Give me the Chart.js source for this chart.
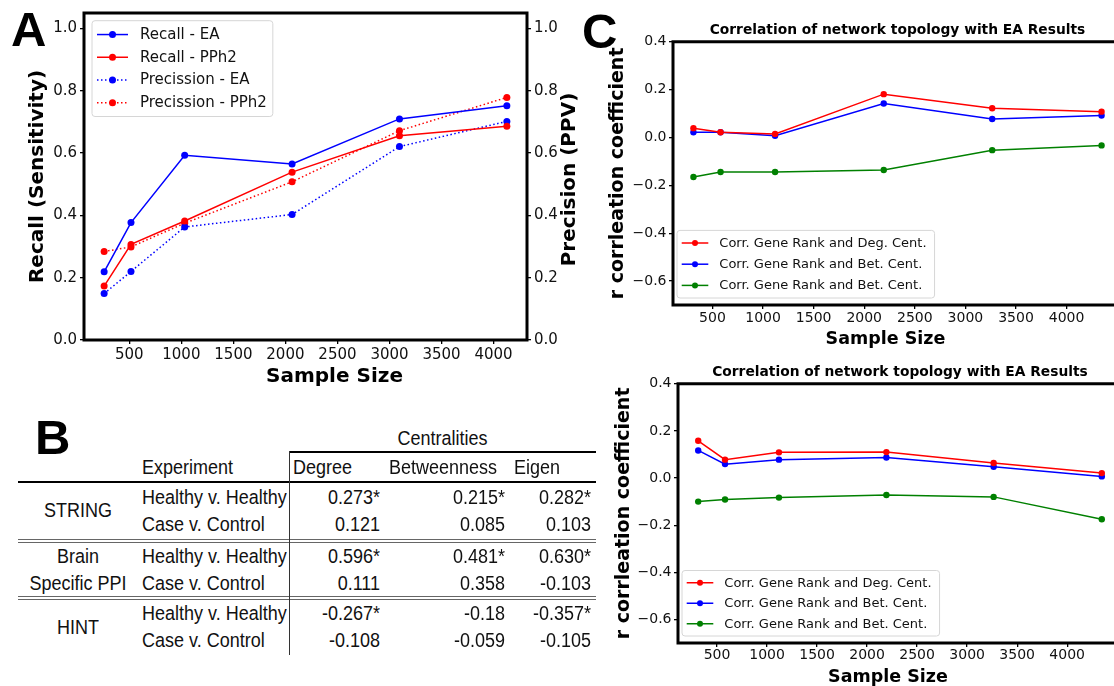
<!DOCTYPE html>
<html>
<head>
<meta charset="utf-8">
<script src="https://cdn.jsdelivr.net/npm/chart.js@4.4.0/dist/chart.umd.min.js"></script>
<style>
html, body { margin: 0; padding: 0; overflow: hidden; background: #fff; }
body { width: 1114px; height: 686px; position: relative; font-family: "Liberation Sans", Arial, sans-serif; }
canvas { position: absolute; }
.letter { position: absolute; font: bold 49px "Liberation Sans", Arial, sans-serif; line-height: 1; color: #000; z-index: 3; }
.cell { position: absolute; height: 26px; line-height: 26px; font-size: 18px; color: #111; white-space: nowrap; }
.cell span { display: inline-block; transform: scaleY(1.15); }
.rule { position: absolute; }
</style>
</head>
<body>
<canvas id="chartA" width="600" height="395" style="left:0;top:0"></canvas>
<canvas id="chartCtop" width="560" height="350" style="left:570px;top:0"></canvas>
<canvas id="chartCbot" width="560" height="345" style="left:570px;top:345px"></canvas>
<div class="letter" style="left:11px;top:5px">A</div>
<div class="letter" style="left:35px;top:413px">B</div>
<div class="letter" style="left:582px;top:7px">C</div>
<div id="tableB"></div>

<script>
// panel A: sample sizes and rates
const sampleSizeA = [258, 516, 1032, 2064, 3096, 4128];
const recallEA = [0.219, 0.377, 0.593, 0.565, 0.710, 0.752];
const recallPPh2 = [0.173, 0.307, 0.382, 0.539, 0.656, 0.686];
const precisionEA = [0.149, 0.220, 0.363, 0.403, 0.621, 0.702];
const precisionPPh2 = [0.284, 0.299, 0.375, 0.508, 0.672, 0.779];

// panel C: correlation coefficients
const sampleSizeC = [312, 580, 1119, 2193, 3265, 4346];
const topDegree = [0.039, 0.022, 0.015, 0.181, 0.122, 0.108];
const topBetween = [0.022, 0.022, 0.007, 0.142, 0.077, 0.092];
const topThird = [-0.165, -0.144, -0.144, -0.136, -0.053, -0.033];
const botDegree = [0.158, 0.078, 0.109, 0.110, 0.064, 0.021];
const botBetween = [0.117, 0.059, 0.078, 0.087, 0.048, 0.007];
const botThird = [-0.100, -0.091, -0.083, -0.072, -0.080, -0.175];
const corrLabels = ['Corr. Gene Rank and Deg. Cent.', 'Corr. Gene Rank and Bet. Cent.', 'Corr. Gene Rank and Bet. Cent.'];

// tick values
const xTicks = [500, 1000, 1500, 2000, 2500, 3000, 3500, 4000];
const ticksA = [0, 0.2, 0.4, 0.6, 0.8, 1.0];
const ticksC = [-0.6, -0.4, -0.2, 0, 0.2, 0.4];

// panel B table
const networks = [['STRING'], ['Brain', 'Specific PPI'], ['HINT']];
const experiments = ['Healthy v. Healthy', 'Case v. Control'];
const centralities = ['Degree', 'Betweenness', 'Eigen'];
const degreeVals = ['0.273*', '0.121', '0.596*', '0.111', '-0.267*', '-0.108'];
const betweenVals = ['0.215*', '0.085', '0.481*', '0.358', '-0.18', '-0.059'];
const eigenVals = ['0.282*', '0.103', '0.630*', '-0.103', '-0.357*', '-0.105'];

const BLUE = '#0000ff';
const RED = '#ff0000';
const GREEN = '#008000';

Chart.defaults.font.family = '"DejaVu Sans", sans-serif';
Chart.defaults.color = '#111';

function points(xs, ys) {
    return xs.map((x, i) => ({ x: x, y: ys[i] }));
}

function fixedTicks(values) {
    return scale => { scale.ticks = values.map(v => ({ value: v })); };
}

function fmt(v) {
    return v < 0 ? '\u2212' + Math.abs(v).toFixed(1) : v.toFixed(1);
}

function axisBase(fontSize, pad) {
    return {
        ticks: { font: { size: fontSize }, color: '#111', padding: pad, autoSkip: false, maxRotation: 0 },
        grid: { drawOnChartArea: false, drawTicks: true, tickLength: 4, color: '#000', lineWidth: 1.3 },
        border: { display: false }
    };
}

// black box around the plot area
const frame = {
    id: 'frame',
    afterDatasetsDraw(chart) {
        const { ctx, chartArea: a } = chart;
        ctx.save();
        ctx.strokeStyle = '#000';
        ctx.lineWidth = 3;
        ctx.strokeRect(a.left, a.top, a.right - a.left, a.bottom - a.top);
        ctx.restore();
    }
};

// matplotlib-like legend inside the plot
const boxLegend = {
    id: 'boxLegend',
    afterDraw(chart, args, o) {
        const { ctx, chartArea: a } = chart;
        const sets = chart.data.datasets;
        ctx.save();
        ctx.font = o.fontSize + 'px "DejaVu Sans"';
        const textW = Math.max(...sets.map(d => ctx.measureText(d.label).width));
        const w = o.padX + o.lineLen + o.gap + textW + o.padR;
        const h = o.padY * 2 + o.rowH * sets.length;
        const x0 = a.left + o.dx;
        const y0 = o.anchor === 'bottom' ? a.bottom - o.dy - h : a.top + o.dy;
        ctx.beginPath();
        if (ctx.roundRect) ctx.roundRect(x0, y0, w, h, 3); else ctx.rect(x0, y0, w, h);
        ctx.fillStyle = 'rgba(255,255,255,0.85)';
        ctx.fill();
        ctx.strokeStyle = '#d6d6d6';
        ctx.lineWidth = 1;
        ctx.stroke();
        sets.forEach((d, i) => {
            const cy = y0 + o.padY + o.rowH * (i + 0.5);
            const lx = x0 + o.padX;
            ctx.setLineDash(d.borderDash || []);
            ctx.strokeStyle = d.borderColor;
            ctx.lineWidth = 1.5;
            ctx.beginPath();
            ctx.moveTo(lx, cy);
            ctx.lineTo(lx + o.lineLen, cy);
            ctx.stroke();
            ctx.setLineDash([]);
            ctx.fillStyle = d.borderColor;
            ctx.beginPath();
            ctx.arc(lx + o.lineLen / 2, cy, o.markerR, 0, Math.PI * 2);
            ctx.fill();
            ctx.fillStyle = '#111';
            ctx.textBaseline = 'middle';
            ctx.textAlign = 'left';
            ctx.fillText(d.label, lx + o.lineLen + o.gap, cy + 0.5);
        });
        ctx.restore();
    }
};

// axis labels that sit off-centre in the original figure
const axisText = {
    id: 'axisText',
    afterDraw(chart, args, o) {
        const { ctx, chartArea: a } = chart;
        (o.items || []).forEach(it => {
            ctx.save();
            if (it.side === 'right') {
                ctx.translate(a.right + it.offset, (a.top + a.bottom) / 2 + it.shift);
                ctx.rotate(-Math.PI / 2);
            } else {
                ctx.translate((a.left + a.right) / 2 + it.shift, chart.height - it.offset);
            }
            ctx.font = 'bold ' + it.size + 'px "DejaVu Sans"';
            ctx.fillStyle = '#000';
            ctx.textAlign = 'center';
            ctx.textBaseline = 'middle';
            ctx.fillText(it.text, 0, 0);
            ctx.restore();
        });
    }
};

function lineSet(label, xs, ys, color, dashed, axisId, radius) {
    return {
        label: label,
        data: points(xs, ys),
        borderColor: color,
        backgroundColor: color,
        pointBackgroundColor: color,
        pointBorderWidth: 0,
        pointRadius: radius,
        pointHoverRadius: radius,
        borderWidth: 1.5,
        borderDash: dashed ? [1.5, 2.5] : [],
        borderCapStyle: 'butt',
        tension: 0,
        fill: false,
        yAxisID: axisId
    };
}

// ---- panel A ----
const xA = Object.assign(axisBase(15, 2), {
    type: 'linear', min: 64.5, max: 4321.5,
    afterBuildTicks: fixedTicks(xTicks),
    afterFit: s => { s.height = 55; }
});
xA.ticks.callback = v => String(v);

const yA = Object.assign(axisBase(15, 3), {
    position: 'left', min: 0, max: 1.05,
    afterBuildTicks: fixedTicks(ticksA),
    afterFit: s => { s.width = 84; },
    title: { display: true, text: 'Recall (Sensitivity)', color: '#000', font: { size: 20, weight: 'bold' }, padding: { top: 26, bottom: 0 } }
});
yA.ticks.callback = v => fmt(v);

const y2A = Object.assign(axisBase(15, 3), {
    position: 'right', min: 0, max: 1.05,
    afterBuildTicks: fixedTicks(ticksA),
    afterFit: s => { s.width = 73; }
});
y2A.ticks.callback = v => fmt(v);

new Chart(document.getElementById('chartA'), {
    type: 'line',
    data: {
        datasets: [
            lineSet('Recall - EA', sampleSizeA, recallEA, BLUE, false, 'y', 3.5),
            lineSet('Recall - PPh2', sampleSizeA, recallPPh2, RED, false, 'y', 3.5),
            lineSet('Precission - EA', sampleSizeA, precisionEA, BLUE, true, 'y2', 3.5),
            lineSet('Precission - PPh2', sampleSizeA, precisionPPh2, RED, true, 'y2', 3.5)
        ]
    },
    options: {
        responsive: false,
        animation: false,
        layout: { padding: { top: 13, left: 0, right: 0, bottom: 0 } },
        plugins: {
            legend: { display: false },
            tooltip: { enabled: false },
            boxLegend: { dx: 8, dy: 7.7, anchor: 'top', fontSize: 15, padX: 5, padR: 6, padY: 2.5, rowH: 22.7, lineLen: 31, gap: 12, markerR: 3.5 },
            axisText: {
                items: [
                    { text: 'Precision (PPV)', side: 'right', offset: 43, shift: 3, size: 20 },
                    { text: 'Sample Size', side: 'bottom', offset: 18, shift: 29, size: 20 }
                ]
            }
        },
        scales: { x: xA, y: yA, y2: y2A }
    },
    plugins: [frame, boxLegend, axisText]
});

// ---- panel C ----
function createCorrChart(canvasId, deg, bet, third, lay) {
    const xC = Object.assign(axisBase(14, lay.xTickPad), {
        type: 'linear', min: 110, max: 4548,
        afterBuildTicks: fixedTicks(xTicks),
        afterFit: s => { s.height = lay.xHeight; }
    });
    xC.ticks.callback = v => String(v);

    const yC = Object.assign(axisBase(14, 2.5), {
        position: 'left', min: -0.7, max: 0.4,
        afterBuildTicks: fixedTicks(ticksC),
        afterFit: s => { s.width = lay.yWidth; },
        title: { display: true, text: 'r corrleation coefficient', color: '#000', font: { size: 19, weight: 'bold' }, padding: { top: lay.yTitlePad, bottom: 0 } }
    });
    yC.ticks.callback = v => fmt(v);

    return new Chart(document.getElementById(canvasId), {
        type: 'line',
        data: {
            datasets: [
                lineSet(corrLabels[0], sampleSizeC, deg, RED, false, 'y', 3.2),
                lineSet(corrLabels[1], sampleSizeC, bet, BLUE, false, 'y', 3.2),
                lineSet(corrLabels[2], sampleSizeC, third, GREEN, false, 'y', 3.2)
            ]
        },
        options: {
            responsive: false,
            animation: false,
            layout: { padding: { top: 0, left: 0, right: 8, bottom: 0 } },
            plugins: {
                legend: { display: false },
                tooltip: { enabled: false },
                title: {
                    display: true, fullSize: false,
                    text: 'Correlation of network topology with EA Results',
                    color: '#000', font: { size: 13.8, weight: 'bold' },
                    padding: { top: lay.titleTop, bottom: lay.titleBottom }
                },
                boxLegend: { dx: 4, dy: 7, anchor: 'bottom', fontSize: 13, padX: 4.7, padR: 8, padY: 2, rowH: lay.rowH, lineLen: 26.6, gap: 11, markerR: 3 },
                axisText: {
                    items: [{ text: 'Sample Size', side: 'bottom', offset: lay.xLabelOffset, shift: -12, size: 17.5 }]
                }
            },
            scales: { x: xC, y: yC }
        },
        plugins: [frame, boxLegend, axisText]
    });
}

createCorrChart('chartCtop', topDegree, topBetween, topThird,
    { xTickPad: 1, xHeight: 45, xLabelOffset: 11, yWidth: 103, yTitlePad: 36.6, titleTop: 22.6, titleBottom: 2.6, rowH: 21.2 });
createCorrChart('chartCbot', botDegree, botBetween, botThird,
    { xTickPad: 0, xHeight: 47, xLabelOffset: 13, yWidth: 108, yTitlePad: 42.6, titleTop: 19.6, titleBottom: 2.6, rowH: 20.5 });

// ---- panel B table ----
const table = document.getElementById('tableB');

function addCell(text, x, y, align) {
    const el = document.createElement('div');
    el.className = 'cell';
    const w = 220;
    if (align === 'right') { el.style.left = (x - w) + 'px'; el.style.textAlign = 'right'; }
    else if (align === 'center') { el.style.left = (x - w / 2) + 'px'; el.style.textAlign = 'center'; }
    else { el.style.left = x + 'px'; }
    el.style.width = w + 'px';
    el.style.top = (y - 13) + 'px';
    const sp = document.createElement('span');
    sp.textContent = text;
    el.appendChild(sp);
    table.appendChild(el);
}

function addRule(x, y, w, h, color) {
    const el = document.createElement('div');
    el.className = 'rule';
    el.style.left = x + 'px';
    el.style.top = y + 'px';
    el.style.width = w + 'px';
    el.style.height = h + 'px';
    el.style.background = color;
    table.appendChild(el);
}

const rowY = [496.5, 524.3, 555.7, 582.7, 612.7, 640.3];
const groupY = [[510], [555.7, 582.7], [626.5]];
const colRight = [380, 505, 591];
const headX = [293, 389, 514];

addCell('Centralities', 442.5, 438, 'center');
addCell('Experiment', 142, 467.3, 'left');
centralities.forEach((c, i) => addCell(c, headX[i], 467.3, 'left'));
networks.forEach((lines, g) => {
    lines.forEach((t, k) => addCell(t, 78, groupY[g][k], 'center'));
    experiments.forEach((e, k) => addCell(e, 142, rowY[g * 2 + k], 'left'));
});
[degreeVals, betweenVals, eigenVals].forEach((vals, c) => {
    vals.forEach((v, r) => addCell(v, colRight[c], rowY[r], 'right'));
});

addRule(290, 450.8, 306, 2.5, '#000');
addRule(18, 480.5, 578, 2.5, '#000');
addRule(18, 538.6, 578, 1.2, '#666');
addRule(18, 541.6, 578, 1.2, '#666');
addRule(18, 595.8, 578, 1.2, '#666');
addRule(18, 598.8, 578, 1.2, '#666');
addRule(288.5, 451, 1.5, 204, '#333');
</script>
</body>
</html>
